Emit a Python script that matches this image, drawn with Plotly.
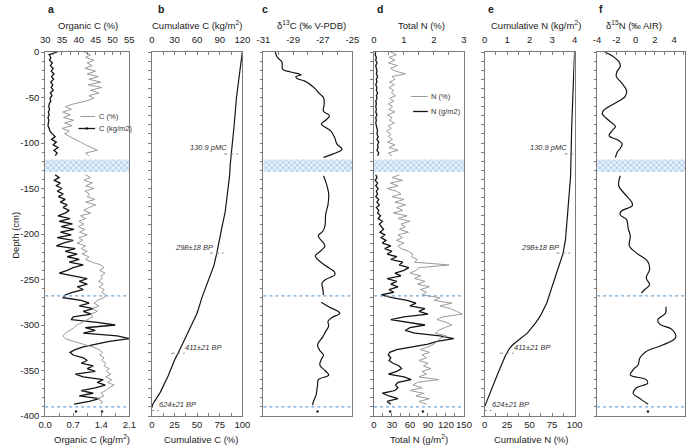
import plotly.graph_objects as go
import numpy as np

W, H = 700, 448
MT, MB = 52, 32
PH = H - MT - MB

# ---------------- data ----------------
depth_top = [-d for d in range(0, 115, 3)]      # upper core section
depth_bot = [-d for d in range(135, 388, 3)]    # lower core section
depth_base = -395                               # isolated basal sample

c_pct_top = [41.5,43.5,42.0,44.5,42.5,44.0,41.8,45.0,42.5,45.8,
             43.0,46.5,42.8,46.8,43.5,46.0,43.0,44.5,42.0,38.5,
             36.0,37.8,35.2,37.5,35.5,38.5,35.8,38.0,35.0,37.2,
             35.8,37.5,39.0,40.5,42.0,44.0,45.5,42.0,43.0]
c_pct_bot = [42.0,43.5,41.5,44.0,42.0,44.5,41.8,43.2,42.5,44.8,
             42.0,45.0,43.0,41.5,43.5,40.5,42.0,40.0,41.5,39.8,
             41.8,40.2,42.5,40.0,41.2,39.5,42.0,40.8,42.5,41.0,
             43.0,42.0,44.0,46.5,47.5,46.2,47.8,46.5,47.0,45.8,
             47.2,46.0,47.5,46.8,48.0,47.5,45.5,44.5,46.0,44.0,
             45.5,43.5,44.2,42.5,41.0,39.5,38.5,37.2,36.0,35.3,
             36.0,38.5,41.5,44.0,46.0,47.0,46.2,47.5,46.8,48.0,
             47.5,49.0,48.2,49.5,48.0,49.8,48.5,50.5,49.0,48.0,
             46.5,47.5,45.5,47.0,46.5]
c_pct_base = 46.9

c_kg_top = [0.30,0.10,0.14,0.11,0.18,0.13,0.20,0.15,0.22,0.16,
            0.21,0.14,0.19,0.15,0.20,0.13,0.17,0.12,0.14,0.10,
            0.09,0.11,0.08,0.10,0.07,0.09,0.08,0.07,0.10,0.12,
            0.18,0.25,0.16,0.28,0.20,0.32,0.22,0.30,0.25]
c_kg_bot = [0.25,0.35,0.22,0.38,0.28,0.42,0.30,0.45,0.33,0.50,
            0.38,0.55,0.45,0.60,0.50,0.32,0.62,0.35,0.68,0.40,
            0.72,0.38,0.65,0.30,0.70,0.45,0.28,0.75,0.50,0.80,
            0.55,0.85,0.60,0.95,0.70,0.55,0.35,0.70,1.05,0.85,
            1.05,0.80,0.95,0.70,0.50,0.45,0.90,1.10,0.85,1.20,
            0.95,1.15,0.70,0.65,1.30,1.75,1.00,1.25,0.95,1.80,
            2.10,1.60,1.25,0.95,0.75,0.62,0.70,0.95,1.05,0.90,
            1.20,1.05,1.25,0.75,0.95,1.45,1.30,1.50,1.25,0.90,
            1.20,0.85,1.35,1.10,0.72]
c_kg_base = 0.77

n_pct_top = [0.55,0.75,0.50,0.70,0.48,0.78,0.55,0.72,1.05,0.60,
             0.70,0.52,0.68,0.50,0.65,0.58,0.72,0.52,0.66,0.48,
             0.62,0.50,0.70,0.45,0.60,0.52,0.68,0.47,0.58,0.42,
             0.55,0.48,0.62,0.45,0.70,0.50,0.80,0.48,0.60]
n_pct_bot = [0.85,0.60,0.95,0.55,0.80,0.45,0.75,0.90,0.60,1.00,
             0.70,1.05,0.75,0.95,0.65,1.10,0.80,1.20,0.90,1.05,
             0.85,1.15,0.80,0.95,0.75,1.00,0.80,0.90,1.15,1.30,
             1.25,1.45,1.35,2.50,1.50,1.40,1.20,1.55,1.35,1.70,
             1.45,1.85,1.55,1.75,1.60,2.20,2.00,2.60,2.20,2.55,
             2.75,2.95,2.30,2.10,2.40,2.60,2.35,2.15,2.05,2.40,
             2.20,2.10,2.00,1.80,1.55,1.85,1.60,1.75,1.50,1.80,
             1.65,1.90,1.60,1.75,1.50,2.15,1.45,1.30,1.60,1.20,
             1.65,1.40,1.85,1.50,1.75]
n_pct_base = 1.63

n_gm_top = [3,2,4,3,5,3,4,5,4,6,
            4,5,3,5,4,6,4,5,3,4,
            3,4,3,5,3,4,3,4,5,6,
            5,7,5,8,6,7,5,8,6]
n_gm_bot = [3,5,2,6,3,7,4,6,3,8,
            5,9,4,8,6,11,7,14,9,12,
            16,10,18,12,20,14,28,18,30,22,
            38,28,48,42,58,50,35,45,22,38,
            28,40,25,33,12,30,55,70,60,85,
            75,90,50,28,55,85,60,52,68,110,
            133,105,90,60,38,26,24,28,25,32,
            42,46,38,24,50,62,40,36,40,35,
            14,25,40,22,28]
n_gm_base = 27

cumc_depth = [0,-20,-50,-80,-100,-111,-125,-135,-155,-176,-190,-206,-220,-235,
              -250,-268,-287,-305,-318,-327,-338,-356,-374,-387,-391]
cumc_pct = [100,97.5,93.5,91,89,87.5,86.5,86,83.5,81,78,75,72,68.5,
            63,56,50,41.6,36,31,25.4,18,9.3,1,0]

cumn_depth = [0,-20,-50,-86,-111,-136,-176,-206,-221,-232,-250,-261,-276,-290,
              -298,-309,-316,-322,-327,-334,-353,-371,-385,-390]
cumn_pct = [100,99,98,96.7,96.4,95.6,92.4,89.9,87.3,83.7,78.3,74.6,69,62,
            56.5,47.5,38,31,26.9,23,14.9,7.6,2,0]

d13c_depth_1 = [0,-6,-11,-19,-22,-25,-27,-29,-32,-39,-46,-50,-57,-65,-70,-75,-79,-83,-87,-94,-101,-107,-112,-116]
d13c_1 = [-30.2,-30.05,-29.75,-29.7,-29.15,-28.45,-28.8,-28.75,-28.2,-27.6,-27.2,-26.95,-26.9,-26.95,
          -26.55,-26.8,-27.1,-26.8,-26.45,-26.2,-26.05,-25.7,-26.3,-26.95]
d13c_depth_2 = [-136,-145,-156,-168,-178,-191,-197,-202,-207,-213,-218,-224,-230,-235,-242,-245,-250,-254,-260,-267]
d13c_2 = [-26.95,-26.75,-26.6,-26.65,-26.8,-26.85,-27.0,-27.3,-27.1,-26.85,-27.1,-27.5,-27.2,-26.8,
          -26.2,-26.2,-26.8,-27.05,-27.0,-26.95]
d13c_depth_3 = [-275,-280,-287,-292,-296,-301,-307,-313,-322,-328,-333,-338,-344,-350,-355,-360,-366,-372,-377,-383,-388]
d13c_3 = [-27.1,-26.6,-25.85,-26.4,-26.65,-26.6,-26.8,-27.0,-27.35,-27.2,-26.95,-27.1,-27.2,-26.85,
          -26.6,-27.3,-27.35,-27.4,-27.45,-27.6,-27.7]
d13c_base = -27.35

d15n_depth_1 = [0,-4,-11,-16,-22,-27,-34,-42,-49,-56,-64,-68,-75,-82,-86,-92,-97,-101,-106,-110,-116]
d15n_1 = [-3.2,-2.45,-1.7,-1.6,-1.95,-2.0,-1.45,-0.95,-1.1,-2.1,-3.3,-3.45,-2.8,-2.1,-2.4,-2.75,
          -1.8,-1.4,-1.6,-1.9,-2.1]
d15n_depth_2 = [-136,-147,-158,-165,-169,-175,-179,-184,-195,-202,-213,-221,-230,-239,-248,-256,-261,-265]
d15n_2 = [-1.6,-1.75,-0.95,-0.4,-0.35,-1.5,-1.6,-0.95,-0.75,-0.55,-0.65,0.1,1.25,1.45,1.1,1.45,0.95,0.6]
d15n_depth_3 = [-280,-287,-294,-299,-305,-314,-322,-329,-336,-344,-349,-355,-360,-364,-369,-375,-382,-387]
d15n_3 = [3.15,3.1,2.3,2.5,3.8,4.15,2.8,1.1,0.45,0.25,-0.25,-0.55,1.1,1.25,0.1,-0.25,0.6,1.3]
d15n_base = 1.28

gap_top, gap_bottom = -118, -132      # missing core interval
hiatus_depths = [-268, -390]          # section boundaries

date_labels = ["130.9 pMC", "298±18 BP", "411±21 BP", "624±21 BP"]
date_depths = [-112, -221, -331, -394]

for a, b in [(c_pct_top, depth_top), (c_kg_top, depth_top), (n_pct_top, depth_top), (n_gm_top, depth_top),
             (c_pct_bot, depth_bot), (c_kg_bot, depth_bot), (n_pct_bot, depth_bot), (n_gm_bot, depth_bot)]:
    assert len(a) == len(b), (len(a), len(b))

def join(*parts):
    out = []
    for i, p in enumerate(parts):
        if i:
            out.append(None)
        out.extend(p)
    return out

# ---------------- layout geometry ----------------
dom = {
    'a': (39, 125), 'b': (148, 240.5), 'c': (262, 353),
    'd': (375, 467), 'e': (488, 580), 'f': (603, 693),
}
def X(px): return px / W
def Y(py): return (H - MB - py) / PH

GREY = '#9a9a9a'
BLACK = '#141414'
AX = '#7a7a7a'
FONT = 'Liberation Sans, Arial, sans-serif'
TF = dict(size=9.5, color='#222', family=FONT)

fig = go.Figure()

def band(xa, ya, lo, hi):
    fig.add_trace(go.Scatter(x=[lo, hi, hi, lo, lo], y=[gap_top, gap_top, gap_bottom, gap_bottom, gap_top],
                             xaxis=xa, yaxis=ya, mode='lines', line=dict(width=0), fill='toself',
                             fillcolor='rgba(255,255,255,0)',
                             fillpattern=dict(shape='x', fgcolor='#6aa3d8', bgcolor='#e6f0fa', size=4, solidity=0.4),
                             hoverinfo='skip', showlegend=False))

def line(x, y, xa, ya, color, width, shape='linear'):
    fig.add_trace(go.Scatter(x=x, y=y, xaxis=xa, yaxis=ya, mode='lines',
                             line=dict(color=color, width=width, shape=shape, smoothing=1.0),
                             hoverinfo='skip', showlegend=False))

def dot(xv, yv, xa, ya):
    fig.add_trace(go.Scatter(x=[xv], y=[yv], xaxis=xa, yaxis=ya, mode='markers',
                             marker=dict(color='#222', size=2.5), hoverinfo='skip', showlegend=False))

# panel a
band('x', 'y', 0, 2.1)
line(join(c_pct_top, c_pct_bot), join(depth_top, depth_bot), 'x7', 'y', GREY, 1.0)
line(join(c_kg_top, c_kg_bot), join(depth_top, depth_bot), 'x', 'y', BLACK, 1.3)
dot(c_pct_base, depth_base, 'x7', 'y')
dot(c_kg_base, depth_base, 'x', 'y')
# panel b
line(cumc_pct, cumc_depth, 'x2', 'y2', BLACK, 1.2)
fig.add_trace(go.Scatter(x=[None], y=[None], xaxis='x8', yaxis='y2', mode='lines', showlegend=False, hoverinfo='skip'))
# panel c
band('x3', 'y3', -31, -25)
line(join(d13c_1, d13c_2, d13c_3), join(d13c_depth_1, d13c_depth_2, d13c_depth_3), 'x3', 'y3', BLACK, 1.2, 'spline')
dot(d13c_base, depth_base, 'x3', 'y3')
# panel d
band('x4', 'y4', 0, 150)
line(join(n_pct_top, n_pct_bot), join(depth_top, depth_bot), 'x9', 'y4', GREY, 1.0)
line(join(n_gm_top, n_gm_bot), join(depth_top, depth_bot), 'x4', 'y4', BLACK, 1.3)
dot(n_pct_base, depth_base, 'x9', 'y4')
dot(n_gm_base, depth_base, 'x4', 'y4')
# panel e
line(cumn_pct, cumn_depth, 'x5', 'y5', BLACK, 1.2)
fig.add_trace(go.Scatter(x=[None], y=[None], xaxis='x10', yaxis='y5', mode='lines', showlegend=False, hoverinfo='skip'))
# panel f
band('x6', 'y6', -4, 5.14)
line(join(d15n_1, d15n_2, d15n_3), join(d15n_depth_1, d15n_depth_2, d15n_depth_3), 'x6', 'y6', BLACK, 1.2, 'spline')
dot(d15n_base, depth_base, 'x6', 'y6')

def xax(key, rng, vals, texts, side, minor_dt, overlay=None, anchor=None, mirror=False):
    d = dict(range=rng, showgrid=False, zeroline=False, showline=True, linecolor=AX, linewidth=1,
             tickmode='array', tickvals=vals, ticktext=texts, tickfont=TF, side=side,
             ticks='inside', ticklen=3, tickcolor=AX, mirror=mirror,
             minor=dict(dtick=minor_dt, tick0=rng[0], ticks='inside', ticklen=3, tickcolor=AX))
    if side == 'top':
        d['ticklabelstandoff'] = 4
    if overlay:
        d['overlaying'] = overlay
        d['anchor'] = anchor
    else:
        d['domain'] = [X(dom[key][0]), X(dom[key][1])]
        d['anchor'] = anchor
    return d

layout_axes = {}
layout_axes['xaxis'] = xax('a', [0, 2.1], [0, 0.7, 1.4, 2.1], ['0.0', '0.7', '1.4', '2.1'], 'bottom', 0.35, anchor='y')
layout_axes['xaxis7'] = xax('a', [30, 55], [30, 35, 40, 45, 50, 55], ['30', '35', '40', '45', '50', '55'], 'top', 2.5, overlay='x', anchor='y')
layout_axes['xaxis2'] = xax('b', [0, 100], [0, 25, 50, 75, 100], ['0', '25', '50', '75', '100'], 'bottom', 12.5, anchor='y2')
layout_axes['xaxis8'] = xax('b', [0, 120], [0, 30, 60, 90, 120], ['0', '30', '60', '90', '120'], 'top', 15, overlay='x2', anchor='y2')
layout_axes['xaxis3'] = xax('c', [-31, -25], [-31, -29, -27, -25], ['-31', '-29', '-27', '-25'], 'top', 1, anchor='y3', mirror=True)
layout_axes['xaxis4'] = xax('d', [0, 150], [0, 30, 60, 90, 120, 150], ['0', '30', '60', '90', '120', '150'], 'bottom', 15, anchor='y4')
layout_axes['xaxis9'] = xax('d', [0, 3], [0, 1, 2, 3], ['0', '1', '2', '3'], 'top', 0.5, overlay='x4', anchor='y4')
layout_axes['xaxis5'] = xax('e', [0, 100], [0, 25, 50, 75, 100], ['0', '25', '50', '75', '100'], 'bottom', 12.5, anchor='y5')
layout_axes['xaxis10'] = xax('e', [0, 4], [0, 1, 2, 3, 4], ['0', '1', '2', '3', '4'], 'top', 0.5, overlay='x5', anchor='y5')
layout_axes['xaxis6'] = xax('f', [-4, 5.14], [-4, -2, 0, 2, 4], ['-4', '-2', '0', '2', '4'], 'top', 1, anchor='y6', mirror=True)

yvals = list(range(0, -401, -50))
for i, key in enumerate(['a', 'b', 'c', 'd', 'e', 'f']):
    name = 'yaxis' if i == 0 else f'yaxis{i+1}'
    xa = 'x' if i == 0 else f'x{i+1}'
    d = dict(range=[-400, 0], domain=[0, 1], anchor=xa, showgrid=False, zeroline=False,
             showline=True, linecolor=AX, linewidth=1, mirror=True,
             ticks='outside', ticklen=3, tickcolor=AX, tickfont=TF)
    if i == 0:
        d.update(tickmode='array', tickvals=yvals, ticktext=[str(v) for v in yvals],
                 minor=dict(dtick=10, ticks='outside', ticklen=2, tickcolor=AX))
    else:
        d.update(tickmode='linear', tick0=0, dtick=10, showticklabels=False, ticklen=2.5)
    layout_axes[name] = d

fig.update_layout(width=W, height=H, margin=dict(l=0, r=0, t=MT, b=MB),
                  paper_bgcolor='white', plot_bgcolor='white', showlegend=False,
                  font=dict(family=FONT, color='#222'), **layout_axes)

shapes = []
# hiatus lines in panels a, c, d, f
for xa, ya in [('x', 'y'), ('x3', 'y3'), ('x4', 'y4'), ('x6', 'y6')]:
    for hd in hiatus_depths:
        shapes.append(dict(type='line', xref=f'{xa} domain', yref=ya, x0=0, x1=1, y0=hd, y1=hd,
                           line=dict(color='#6fa6d8', width=1.4, dash='dot')))

# dating markers on cumulative panels
annots = []
for xa, ya, dd, vv, span in [('x2', 'y2', cumc_depth, cumc_pct, 93), ('x5', 'y5', cumn_depth, cumn_pct, 92)]:
    dd_pos = [-v for v in dd]
    for i, (lab, dep) in enumerate(zip(date_labels, date_depths)):
        cx = float(np.interp(-dep, dd_pos, vv))
        half = 7 / span * 100
        shapes.append(dict(type='line', xref=xa, yref=ya, x0=cx - half, x1=cx + half, y0=dep, y1=dep,
                           line=dict(color='#888', width=1, dash='dot')))
        upper = i < 2
        annots.append(dict(xref=xa, yref=ya, x=cx, y=dep, text=f'<i>{lab}</i>', showarrow=False,
                           xanchor='right' if upper else 'left', yanchor='middle',
                           xshift=-2 if upper else 5, yshift=6,
                           font=dict(size=7.5, color='#333', family=FONT)))

# titles
def ann(px, py, text, size=9.5, bold=False, anchor='center', angle=0):
    annots.append(dict(xref='paper', yref='paper', x=X(px), y=Y(py), text=f'<b>{text}</b>' if bold else text,
                       showarrow=False, xanchor=anchor, yanchor='middle', textangle=angle,
                       font=dict(size=size, color='#222', family=FONT)))

for lab, px in zip('abcdef', [40, 152, 259, 376, 490, 603]):
    ann(px, 9, lab, size=10.5, bold=True, anchor='left')

ann(82.5, 25, 'Organic C (%)')
ann(194.5, 25, 'Cumulative C (kg/m<sup>2</sup>)')
ann(311, 25, 'δ<sup>13</sup>C (‰ V-PDB)')
ann(424, 25, 'Total N (%)')
ann(541, 25, 'Cumulative N (kg/m<sup>2</sup>)')
ann(641, 25, 'δ<sup>15</sup>N (‰ AIR)')
ann(86.5, 439, 'Organic C (kg/m<sup>2</sup>)')
ann(198, 439, 'Cumulative C (%)')
ann(421.5, 439, 'Total N (g/m<sup>2</sup>)')
ann(535, 439, 'Cumulative N (%)')
ann(8, 235, 'Depth (cm)', angle=-90)

# in-panel legends
def legend_item(x0, x1, py, color, width, text, marker=False):
    shapes.append(dict(type='line', xref='paper', yref='paper', x0=X(x0), x1=X(x1), y0=Y(py), y1=Y(py),
                       line=dict(color=color, width=width)))
    if marker:
        m = (x0 + x1) / 2
        shapes.append(dict(type='circle', xref='paper', yref='paper', x0=X(m - 1.3), x1=X(m + 1.3),
                           y0=Y(py + 1.3), y1=Y(py - 1.3), fillcolor=color, line=dict(width=0)))
    annots.append(dict(xref='paper', yref='paper', x=X(x1 + 1.5), y=Y(py), text=text, showarrow=False,
                       xanchor='left', yanchor='middle', font=dict(size=7.5, color='#333', family=FONT)))

legend_item(75, 90, 116.5, GREY, 1, 'C (%)')
legend_item(73, 90, 128.5, BLACK, 1.3, 'C (kg/m2)', marker=True)
legend_item(413, 430, 96.5, GREY, 1, 'N (%)')
legend_item(415, 430, 111.5, BLACK, 1.3, 'N (g/m2)')

fig.update_layout(shapes=shapes, annotations=annots)
fig.write_html('out.html', config={'displayModeBar': False},
               post_script="document.body.style.margin='0px';document.body.style.padding='0px';")
